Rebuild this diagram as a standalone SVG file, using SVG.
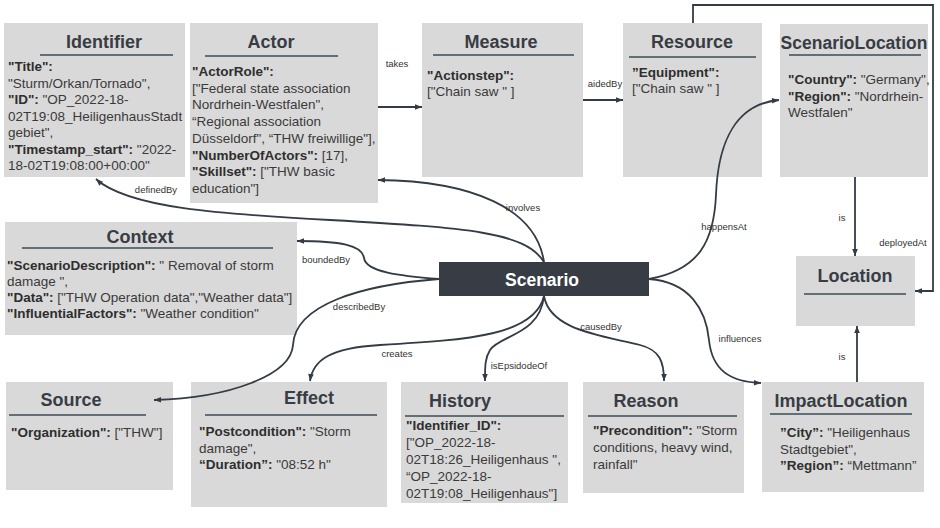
<svg xmlns="http://www.w3.org/2000/svg" width="940" height="528" viewBox="0 0 940 528">
<style>
.box{fill:#d9d9d9}
.title{font-family:"Liberation Sans",Arial,sans-serif;font-weight:bold;font-size:18px;fill:#383c44;text-anchor:middle}
.ul{stroke:#3b4b56;stroke-width:1.5}
.body{font-family:"Liberation Sans",Arial,sans-serif;font-size:13.5px;fill:#3a3a3a}
.b{font-weight:bold;fill:#2e2e2e}
.edge{fill:none;stroke:#333b44;stroke-width:1.8}
.arr{marker-end:url(#ah)}
.lbl{font-family:"Liberation Sans",Arial,sans-serif;font-size:9.5px;fill:#333;text-anchor:middle}
</style>
<defs>
<marker id="ah" viewBox="0 0 10 10" refX="10" refY="5" markerWidth="8" markerHeight="7" markerUnits="userSpaceOnUse" orient="auto">
<path d="M0,1 L10,5 L0,9 z" fill="#333b44"/>
</marker>
</defs>
<rect width="940" height="528" fill="#ffffff"/>

<g id="Identifier">
<rect class="box" x="4" y="23" width="181" height="154"/>
<text class="title" x="104" y="48">Identifier</text>
<line class="ul" x1="40" y1="55" x2="173" y2="55"/>
<text class="body" x="8" y="71"><tspan class="b">"Title":</tspan></text>
<text class="body" x="8" y="87.5">"Sturm/Orkan/Tornado",</text>
<text class="body" x="8" y="104"><tspan class="b">"ID":</tspan> "OP_2022-18-</text>
<text class="body" x="8" y="120.5">02T19:08_HeiligenhausStadt</text>
<text class="body" x="8" y="137">gebiet",</text>
<text class="body" x="8" y="153.5"><tspan class="b">"Timestamp_start":</tspan> "2022-</text>
<text class="body" x="8" y="170">18-02T19:08:00+00:00"</text>
</g>

<g id="Actor">
<rect class="box" x="190" y="23" width="188" height="180"/>
<text class="title" x="271" y="48">Actor</text>
<line class="ul" x1="205" y1="56" x2="338" y2="56"/>
<text class="body" x="192" y="76"><tspan class="b">"ActorRole":</tspan></text>
<text class="body" x="192" y="92.7">["Federal state association</text>
<text class="body" x="192" y="109.4">Nordrhein-Westfalen",</text>
<text class="body" x="192" y="126.1">“Regional association</text>
<text class="body" x="192" y="142.8">Düsseldorf", “THW freiwillige"],</text>
<text class="body" x="192" y="159.5"><tspan class="b">"NumberOfActors":</tspan> [17],</text>
<text class="body" x="192" y="176.2"><tspan class="b">"Skillset":</tspan> ["THW basic</text>
<text class="body" x="192" y="192.9">education"]</text>
</g>

<g id="Measure">
<rect class="box" x="422" y="23" width="161" height="154"/>
<text class="title" x="501" y="48">Measure</text>
<line class="ul" x1="433" y1="55" x2="574" y2="55"/>
<text class="body" x="427" y="80"><tspan class="b">"Actionstep":</tspan></text>
<text class="body" x="427" y="96">["Chain saw " ]</text>
</g>

<g id="Resource">
<rect class="box" x="623" y="23" width="139" height="154"/>
<text class="title" x="692" y="48">Resource</text>
<line class="ul" x1="629" y1="57" x2="756" y2="57"/>
<text class="body" x="632" y="77"><tspan class="b">”Equipment":</tspan></text>
<text class="body" x="632" y="93">["Chain saw " ]</text>
</g>

<g id="ScenarioLocation">
<rect class="box" x="780" y="24" width="148" height="153"/>
<text class="title" x="854" y="49" style="font-size:17.5px">ScenarioLocation</text>
<line class="ul" x1="789" y1="55" x2="921" y2="55"/>
<text class="body" x="788" y="84"><tspan class="b">"Country":</tspan> "Germany",</text>
<text class="body" x="788" y="100.5"><tspan class="b">"Region":</tspan> "Nordrhein-</text>
<text class="body" x="788" y="117">Westfalen"</text>
</g>

<g id="Context">
<rect class="box" x="5" y="222" width="292" height="113"/>
<text class="title" x="140" y="243">Context</text>
<line class="ul" x1="22" y1="248" x2="273" y2="248"/>
<text class="body" x="7" y="270"><tspan class="b">"ScenarioDescription":</tspan> " Removal of storm</text>
<text class="body" x="7" y="286">damage ",</text>
<text class="body" x="7" y="302"><tspan class="b">"Data":</tspan> ["THW Operation data","Weather data"]</text>
<text class="body" x="7" y="318"><tspan class="b">"InfluentialFactors":</tspan> "Weather condition"</text>
</g>

<g id="Location">
<rect class="box" x="796" y="256" width="119" height="70"/>
<text class="title" x="855" y="282">Location</text>
<line class="ul" x1="804" y1="294" x2="906" y2="294"/>
</g>

<g id="Scenario">
<rect x="439" y="262" width="210" height="34" fill="#383c44"/>
<text x="542" y="285.5" style="font-family:'Liberation Sans',Arial,sans-serif;font-weight:bold;font-size:17.5px;fill:#ffffff;text-anchor:middle">Scenario</text>
</g>

<g id="Source">
<rect class="box" x="6" y="382" width="167" height="108"/>
<text class="title" x="71" y="406">Source</text>
<line class="ul" x1="9" y1="415" x2="146" y2="415"/>
<text class="body" x="11" y="436.5"><tspan class="b">"Organization":</tspan> ["THW"]</text>
</g>

<g id="Effect">
<rect class="box" x="191" y="382" width="196" height="125"/>
<text class="title" x="309" y="404">Effect</text>
<line class="ul" x1="205" y1="415" x2="377" y2="415"/>
<text class="body" x="199" y="436"><tspan class="b">"Postcondition":</tspan> "Storm</text>
<text class="body" x="199" y="452.5">damage",</text>
<text class="body" x="199" y="469"><tspan class="b">“Duration”:</tspan> "08:52 h"</text>
</g>

<g id="History">
<rect class="box" x="401" y="382" width="167" height="121"/>
<text class="title" x="460" y="407">History</text>
<line class="ul" x1="405" y1="416" x2="564" y2="416"/>
<text class="body" x="406" y="430"><tspan class="b">"Identifier_ID":</tspan></text>
<text class="body" x="406" y="447">["OP_2022-18-</text>
<text class="body" x="406" y="464">02T18:26_Heiligenhaus ",</text>
<text class="body" x="406" y="481">“OP_2022-18-</text>
<text class="body" x="406" y="498">02T19:08_Heiligenhaus"]</text>
</g>

<g id="Reason">
<rect class="box" x="583" y="382" width="161" height="111"/>
<text class="title" x="646" y="407">Reason</text>
<line class="ul" x1="588" y1="416" x2="737" y2="416"/>
<text class="body" x="593" y="435"><tspan class="b">"Precondition":</tspan> "Storm</text>
<text class="body" x="593" y="452">conditions, heavy wind,</text>
<text class="body" x="593" y="469">rainfall"</text>
</g>

<g id="ImpactLocation">
<rect class="box" x="762" y="382" width="162" height="110"/>
<text class="title" x="841" y="407">ImpactLocation</text>
<line class="ul" x1="770" y1="414" x2="912" y2="414"/>
<text class="body" x="780" y="437"><tspan class="b">”City”:</tspan> "Heiligenhaus</text>
<text class="body" x="780" y="453.5">Stadtgebiet",</text>
<text class="body" x="780" y="470"><tspan class="b">”Region”:</tspan> “Mettmann”</text>
</g>

<g id="connectors">
<path class="edge arr" d="M378,107 L422,107"/>
<path class="edge arr" d="M583,100 L623,100"/>
<path class="edge arr" d="M693,23 L693,5 L933,5 L933,291 L915,291"/>
<path class="edge arr" d="M855,177 L855,256"/>
<path class="edge arr" d="M857,382 L857,326"/>
<path class="edge arr" d="M544,262 C536,208 472,181 378,180"/>
<path class="edge arr" d="M544,262 C525,232 470,228 330,220 C220,214 128,208 96,179"/>
<path class="edge arr" d="M439,279 C400,276 366,272 364,258 C362,245 340,241 297,241"/>
<path class="edge arr" d="M439,279 C360,285 295,305 293,345 C291,375 230,398 154,400"/>
<path class="edge arr" d="M544,296 C535,335 470,340 380,345 C330,348 313,360 310,381"/>
<path class="edge arr" d="M544,296 C540,335 500,335 490,350 C485,358 485,366 485,381"/>
<path class="edge arr" d="M544,296 C550,330 600,335 640,345 C660,350 664,362 664,381"/>
<path class="edge arr" d="M649,279 C690,282 706,310 709,340 C712,370 730,382 761,383"/>
<path class="edge arr" d="M649,279 C700,270 714,240 716,195 C718,140 737,104 779,100"/>
<text class="lbl" x="397" y="67">takes</text>
<text class="lbl" x="605" y="87">aidedBy</text>
<text class="lbl" x="903" y="246">deployedAt</text>
<text class="lbl" x="842" y="221">is</text>
<text class="lbl" x="842" y="360">is</text>
<text class="lbl" x="523" y="211">involves</text>
<text class="lbl" x="156" y="193">definedBy</text>
<text class="lbl" x="326" y="263">boundedBy</text>
<text class="lbl" x="359" y="310">describedBy</text>
<text class="lbl" x="397" y="357">creates</text>
<text class="lbl" x="519" y="369">isEpsidodeOf</text>
<text class="lbl" x="601" y="330">causedBy</text>
<text class="lbl" x="740" y="342">influences</text>
<text class="lbl" x="724" y="230">happensAt</text>
</g>
</svg>
